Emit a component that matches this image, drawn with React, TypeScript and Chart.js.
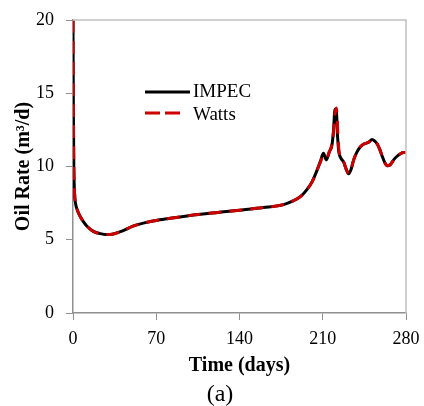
import React, { useEffect, useRef } from "react";
import { Chart, registerables } from "chart.js";

Chart.register(...registerables);

const days = [0, 0.3, 0.7, 1.3, 2.1, 4, 6.3, 9, 12, 17.5, 23, 27.5, 33, 40, 51, 60, 71, 85, 100, 120, 140, 160, 177, 185, 192, 197, 201, 205, 208, 210.6, 213, 215.5, 217.6, 219, 220.3, 221.5, 222.5, 223.5, 225, 227.6, 229.8, 231.8, 233.8, 236, 238.5, 241.7, 245, 248.5, 251.5, 253.5, 255.7, 258, 260, 262, 264, 266.5, 269.6, 272.5, 275, 278, 280];

const impec = [20, 14, 10, 8.2, 7.5, 6.95, 6.55, 6.2, 5.9, 5.55, 5.42, 5.35, 5.38, 5.55, 5.95, 6.15, 6.33, 6.5, 6.68, 6.85, 7.02, 7.2, 7.4, 7.65, 8.0, 8.45, 8.95, 9.7, 10.35, 10.9, 10.45, 11.0, 11.4, 12.4, 13.9, 13.7, 12.0, 11.0, 10.6, 10.3, 9.8, 9.5, 9.8, 10.45, 10.95, 11.35, 11.55, 11.65, 11.85, 11.75, 11.55, 11.15, 10.7, 10.3, 10.05, 10.1, 10.45, 10.7, 10.85, 10.95, 10.95];

const watts = [20, 14, 10, 8.2, 7.5, 6.95, 6.55, 6.2, 5.9, 5.55, 5.42, 5.35, 5.38, 5.55, 5.95, 6.15, 6.33, 6.5, 6.68, 6.85, 7.02, 7.2, 7.4, 7.65, 8.0, 8.45, 8.95, 9.7, 10.3, 10.7, 10.55, 11.0, 11.5, 12.3, 13.6, 14.0, 12.6, 11.2, 10.6, 10.3, 9.8, 9.5, 9.8, 10.45, 10.95, 11.35, 11.55, 11.65, 11.85, 11.75, 11.55, 11.15, 10.7, 10.3, 10.05, 10.1, 10.45, 10.7, 10.85, 10.95, 10.95];

const seriesNames = ["IMPEC", "Watts"];
const xTitle = "Time (days)";
const yTitle = "Oil Rate (m³/d)";
const caption = "(a)";

const serif = "'Liberation Serif', 'Times New Roman', serif";

export default function App() {
  const ref = useRef<HTMLCanvasElement | null>(null);

  useEffect(() => {
    if (!ref.current) return;
    const framePlugin = {
      id: "frameAndLegend",
      afterDraw(chart: any) {
        const { ctx, chartArea } = chart;
        ctx.save();
        ctx.strokeStyle = "#c0c0c0";
        ctx.lineWidth = 1.5;
        ctx.beginPath();
        ctx.moveTo(chartArea.left, chartArea.top);
        ctx.lineTo(chartArea.right, chartArea.top);
        ctx.lineTo(chartArea.right, chartArea.bottom);
        ctx.stroke();
        ctx.lineWidth = 3;
        ctx.strokeStyle = "#000000";
        ctx.setLineDash([]);
        ctx.beginPath();
        ctx.moveTo(145, 92);
        ctx.lineTo(190, 92);
        ctx.stroke();
        ctx.strokeStyle = "#cc0000";
        ctx.setLineDash([15, 5]);
        ctx.beginPath();
        ctx.moveTo(145, 113);
        ctx.lineTo(180, 113);
        ctx.stroke();
        ctx.setLineDash([]);
        ctx.fillStyle = "#000000";
        ctx.font = `19px ${serif}`;
        ctx.textAlign = "left";
        ctx.textBaseline = "alphabetic";
        ctx.fillText(seriesNames[0], 193, 97);
        ctx.fillText(seriesNames[1], 193, 119.5);
        ctx.font = `24px ${serif}`;
        ctx.textAlign = "center";
        ctx.textBaseline = "middle";
        ctx.fillText(caption, 220, 395);
        ctx.restore();
      },
    };

    const chart = new Chart(ref.current, {
      type: "line",
      data: {
        datasets: [
          {
            label: seriesNames[0],
            data: days.map((d, i) => ({ x: d, y: impec[i] })),
            borderColor: "#000000",
            borderWidth: 3,
            pointRadius: 0,
            cubicInterpolationMode: "monotone",
            fill: false,
            order: 2,
          },
          {
            label: seriesNames[1],
            data: days.map((d, i) => ({ x: d, y: watts[i] })),
            borderColor: "#cc0000",
            borderWidth: 3,
            borderDash: [13, 8],
            pointRadius: 0,
            cubicInterpolationMode: "monotone",
            fill: false,
            order: 1,
          },
        ],
      },
      options: {
        animation: false,
        responsive: false,
        maintainAspectRatio: false,
        layout: { padding: { top: 20, right: 18, left: 0, bottom: 0 } },
        plugins: { legend: { display: false }, tooltip: { enabled: false } },
        scales: {
          x: {
            type: "linear",
            min: 0,
            max: 280,
            afterFit: (s: any) => {
              s.height = 93;
              s.paddingRight = 0;
              s.paddingLeft = 0;
            },
            ticks: {
              stepSize: 70,
              color: "#000000",
              padding: 8,
              maxRotation: 0,
              font: { family: serif, size: 18 },
            },
            grid: { drawOnChartArea: false, drawTicks: true, tickLength: 7, color: "#909090" },
            border: { display: true, color: "#909090", width: 1.5 },
            title: {
              display: true,
              text: xTitle,
              color: "#000000",
              font: { family: serif, size: 20, weight: "bold" },
              padding: { top: 0, bottom: 28 },
            },
          },
          y: {
            min: 0,
            max: 20,
            afterFit: (s: any) => {
              s.width = 73;
              s.paddingTop = 0;
              s.paddingBottom = 0;
            },
            ticks: {
              stepSize: 5,
              color: "#000000",
              padding: 12,
              font: { family: serif, size: 18 },
            },
            grid: { drawOnChartArea: false, drawTicks: true, tickLength: 7, color: "#909090" },
            border: { display: true, color: "#909090", width: 1.5 },
            title: {
              display: true,
              text: yTitle,
              color: "#000000",
              font: { family: serif, size: 20, weight: "bold" },
              padding: { top: 12, bottom: 0 },
            },
          },
        },
      },
      plugins: [framePlugin],
    });
    return () => chart.destroy();
  }, []);

  return (
    <div style={{ position: "fixed", left: 0, top: 0, width: 424, height: 406, background: "#ffffff" }}>
      <canvas ref={ref} width={424} height={406} style={{ width: 424, height: 406 }} />
    </div>
  );
}
